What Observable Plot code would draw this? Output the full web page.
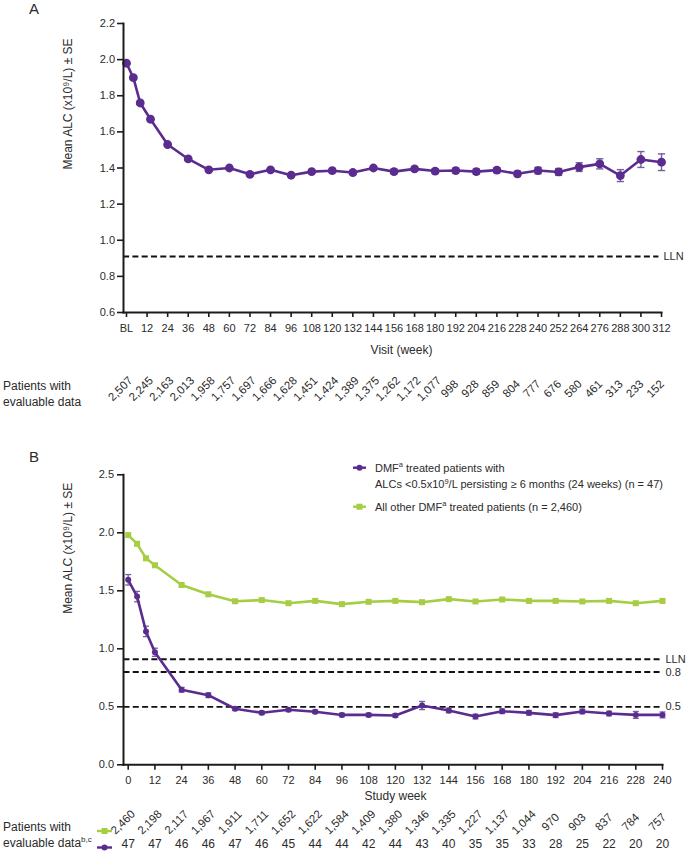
<!DOCTYPE html>
<html>
<head>
<meta charset="utf-8">
<script src="https://cdn.jsdelivr.net/npm/d3@7"></script>
<script src="https://cdn.jsdelivr.net/npm/@observablehq/plot@0.6"></script>
<style>
  html, body { margin: 0; padding: 0; background: #fff; }
  #wrap { position: relative; width: 686px; height: 853px; overflow: hidden; font-family: "Liberation Sans", Arial, sans-serif; }
  #pa { position: absolute; left: 0; top: 0; }
  #pb { position: absolute; left: 0; top: 430px; }
  #ov { position: absolute; left: 0; top: 0; pointer-events: none; }
</style>
</head>
<body>
<div id="wrap">
  <div id="pa"></div>
  <div id="pb"></div>
  <svg id="ov" width="686" height="853" font-family="Liberation Sans, Arial, sans-serif" fill="#2b2b2b">
    <text x="29" y="14" font-size="15">A</text>
    <text x="29" y="462" font-size="15">B</text>
    <text x="3" y="390" font-size="12">Patients with</text>
    <text x="3" y="405.5" font-size="12">evaluable data</text>
    <text x="3" y="831" font-size="12">Patients with</text>
    <text x="3" y="846.5" font-size="12">evaluable data<tspan font-size="8" dy="-5">b,c</tspan></text>
    <!-- patients-row legend glyphs -->
    <line x1="97" x2="112" y1="831" y2="831" stroke="#a6cd43" stroke-width="2.4"/>
    <rect x="101.5" y="828" width="6" height="6" fill="#a6cd43"/>
    <line x1="97" x2="112" y1="847.5" y2="847.5" stroke="#5b2c8f" stroke-width="2.4"/>
    <circle cx="104.5" cy="847.5" r="3" fill="#5b2c8f"/>
    <!-- main legend B -->
    <line x1="353" x2="366" y1="467.7" y2="467.7" stroke="#5b2c8f" stroke-width="2.4"/>
    <circle cx="359.5" cy="467.7" r="3" fill="#5b2c8f"/>
    <text x="375" y="471.7" font-size="11">DMF<tspan font-size="7.5" dy="-4.5">a</tspan><tspan dy="4.5"> treated patients with</tspan></text>
    <text x="375" y="488.3" font-size="11">ALCs &lt;0.5x10<tspan font-size="7.5" dy="-4.5">9</tspan><tspan dy="4.5">/L persisting ≥ 6 months (24 weeks) (n = 47)</tspan></text>
    <line x1="353" x2="366" y1="506.7" y2="506.7" stroke="#a6cd43" stroke-width="2.4"/>
    <rect x="356.5" y="503.7" width="6" height="6" fill="#a6cd43"/>
    <text x="375" y="510.5" font-size="11">All other DMF<tspan font-size="7.5" dy="-4.5">a</tspan><tspan dy="4.5"> treated patients (n = 2,460)</tspan></text>
  </svg>
</div>
<script>
// ---------------- Panel A data ----------------
const weeksA = [0, 4, 8, 14, 24, 36, 48, 60, 72, 84, 96, 108, 120, 132, 144, 156, 168, 180, 192, 204, 216, 228, 240, 252, 264, 276, 288, 300, 312];
const meanA  = [1.98, 1.90, 1.76, 1.67, 1.53, 1.45, 1.39, 1.40, 1.365, 1.39, 1.36, 1.38, 1.385, 1.375, 1.40, 1.38, 1.395, 1.383, 1.386, 1.38, 1.388, 1.368, 1.386, 1.378, 1.405, 1.423, 1.358, 1.447, 1.432];
const seA    = [0.010, 0.010, 0.010, 0.010, 0.008, 0.008, 0.008, 0.009, 0.009, 0.009, 0.009, 0.010, 0.010, 0.011, 0.011, 0.012, 0.012, 0.013, 0.013, 0.014, 0.014, 0.015, 0.018, 0.019, 0.024, 0.028, 0.033, 0.044, 0.046];
const tickWeeksA  = [0, 12, 24, 36, 48, 60, 72, 84, 96, 108, 120, 132, 144, 156, 168, 180, 192, 204, 216, 228, 240, 252, 264, 276, 288, 300, 312];
const tickLabelsA = ["BL", "12", "24", "36", "48", "60", "72", "84", "96", "108", "120", "132", "144", "156", "168", "180", "192", "204", "216", "228", "240", "252", "264", "276", "288", "300", "312"];
const patientsA   = ["2,507", "2,245", "2,163", "2,013", "1,958", "1,757", "1,697", "1,666", "1,628", "1,451", "1,424", "1,389", "1,375", "1,262", "1,172", "1,077", "998", "928", "859", "804", "777", "676", "580", "461", "313", "233", "152"];
const yTicksA = [0.6, 0.8, 1.0, 1.2, 1.4, 1.6, 1.8, 2.0, 2.2];
const llnValue = 0.91;

// ---------------- Panel B data ----------------
const weeksB     = [0, 4, 8, 12, 24, 36, 48, 60, 72, 84, 96, 108, 120, 132, 144, 156, 168, 180, 192, 204, 216, 228, 240];
const meanOther  = [1.98, 1.905, 1.78, 1.72, 1.55, 1.47, 1.41, 1.42, 1.393, 1.413, 1.385, 1.405, 1.413, 1.402, 1.428, 1.408, 1.425, 1.413, 1.413, 1.408, 1.413, 1.393, 1.413];
const seOther    = [0.010, 0.010, 0.010, 0.010, 0.009, 0.009, 0.009, 0.009, 0.009, 0.009, 0.009, 0.010, 0.010, 0.010, 0.010, 0.011, 0.011, 0.011, 0.012, 0.012, 0.013, 0.013, 0.013];
const meanLow    = [1.595, 1.45, 1.15, 0.97, 0.647, 0.60, 0.483, 0.448, 0.474, 0.457, 0.43, 0.43, 0.425, 0.511, 0.468, 0.416, 0.462, 0.448, 0.428, 0.46, 0.442, 0.43, 0.43];
const seLow      = [0.045, 0.045, 0.045, 0.035, 0.020, 0.020, 0.015, 0.015, 0.015, 0.015, 0.015, 0.015, 0.015, 0.035, 0.020, 0.020, 0.020, 0.020, 0.020, 0.020, 0.020, 0.030, 0.025];
const tickWeeksB = [0, 12, 24, 36, 48, 60, 72, 84, 96, 108, 120, 132, 144, 156, 168, 180, 192, 204, 216, 228, 240];
const patientsOther = ["2,460", "2,198", "2,117", "1,967", "1,911", "1,711", "1,652", "1,622", "1,584", "1,409", "1,380", "1,346", "1,335", "1,227", "1,137", "1,044", "970", "903", "837", "784", "757"];
const patientsLow   = ["47", "47", "46", "46", "47", "46", "45", "44", "44", "42", "44", "43", "40", "35", "35", "33", "28", "25", "22", "20", "20"];
const yTicksB = [0, 0.5, 1.0, 1.5, 2.0, 2.5];
const refValuesB = [0.91, 0.8, 0.5];
const refLabelsB = ["LLN", "0.8", "0.5"];

const yLabel = "Mean ALC (x10⁹/L) ± SE";

// ---------------- styles ----------------
const purple = "#5b2c8f";
const purpleErr = "#725f9c";
const green = "#a6cd43";
const axisColor = "#1c1c1c";
const cap = {draw(ctx, size) { const w = Math.sqrt(size / Math.PI); ctx.moveTo(-w, 0); ctx.lineTo(w, 0); }};

// ---------------- tables ----------------
const dataA = weeksA.map((w, i) => ({week: w, mean: meanA[i], lo: meanA[i] - seA[i], hi: meanA[i] + seA[i]}));
const rowA = tickWeeksA.map((w, i) => ({week: w, n: patientsA[i]}));
const other = weeksB.map((w, i) => ({week: w, mean: meanOther[i], lo: meanOther[i] - seOther[i], hi: meanOther[i] + seOther[i]}));
const low = weeksB.map((w, i) => ({week: w, mean: meanLow[i], lo: meanLow[i] - seLow[i], hi: meanLow[i] + seLow[i]}));
const rowB = tickWeeksB.map((w, i) => ({week: w, other: patientsOther[i], low: patientsLow[i]}));
const refB = refValuesB.map((v, i) => ({v, label: refLabelsB[i]}));

const style = {fontFamily: "Liberation Sans, Arial, sans-serif", fontSize: "11px", color: "#2b2b2b", background: "transparent", overflow: "visible"};

// ---------------- Panel A ----------------
const plotA = Plot.plot({
  width: 686, height: 430,
  marginLeft: 123, marginRight: 25, marginTop: 23, marginBottom: 118,
  style,
  x: {domain: [0, 312], range: [126, 661], label: null},
  y: {domain: [0.6, 2.2], range: [312, 23], label: null},
  marks: [
    Plot.ruleY([llnValue], {stroke: "#111", strokeWidth: 1.8, strokeDasharray: "6,3.3", x1: -1.7, x2: 310.5}),
    Plot.text([llnValue], {y: d => d, frameAnchor: "right", textAnchor: "start", dx: 2, text: () => "LLN", fontSize: 11}),
    Plot.ruleX(dataA, {x: "week", y1: "lo", y2: "hi", stroke: purpleErr, strokeWidth: 1.4}),
    Plot.dot(dataA, {x: "week", y: "hi", symbol: cap, r: 3.6, stroke: purpleErr, strokeWidth: 1.4, fill: "none"}),
    Plot.dot(dataA, {x: "week", y: "lo", symbol: cap, r: 3.6, stroke: purpleErr, strokeWidth: 1.4, fill: "none"}),
    Plot.line(dataA, {x: "week", y: "mean", stroke: purple, strokeWidth: 2.6}),
    Plot.dot(dataA, {x: "week", y: "mean", r: 4.4, fill: purple, stroke: "none"}),
    Plot.frame({anchor: "left", stroke: axisColor, strokeWidth: 2}),
    Plot.frame({anchor: "bottom", stroke: axisColor, strokeWidth: 2}),
    Plot.axisY({ticks: yTicksA, tickFormat: d3.format(".1f"), tickSize: 6, tickPadding: 2.5, strokeWidth: 1.6, stroke: axisColor, fontSize: 11, label: null}),
    Plot.axisX({ticks: tickWeeksA, tickFormat: d => tickLabelsA[tickWeeksA.indexOf(d)], tickSize: 5, tickPadding: 7, strokeWidth: 1.6, stroke: axisColor, fontSize: 11, label: null}),
    Plot.text([yLabel], {frameAnchor: "left", dx: -55, dy: 1.5, rotate: -90, text: d => d, fontSize: 12}),
    Plot.text(["Visit (week)"], {frameAnchor: "bottom", dx: 9, dy: 41.5, text: d => d, fontSize: 12}),
    Plot.text(rowA, {x: "week", text: "n", frameAnchor: "bottom", dx: -3.5, dy: 79, rotate: -45, fontSize: 11.5})
  ]
});
document.getElementById("pa").appendChild(plotA);

// ---------------- Panel B ----------------
const plotB = Plot.plot({
  width: 686, height: 425,
  marginLeft: 123, marginRight: 24, marginTop: 44.3, marginBottom: 90.7,
  style,
  x: {domain: [0, 240], range: [127.7, 662], label: null},
  y: {domain: [0, 2.5], range: [334.3, 44.3], label: null},
  marks: [
    Plot.ruleY(refB, {y: "v", stroke: "#111", strokeWidth: 1.8, strokeDasharray: "6,3.3", x1: -1.9, x2: 239}),
    Plot.text(refB, {y: "v", text: "label", frameAnchor: "right", textAnchor: "start", dx: 3, fontSize: 11}),
    Plot.ruleX(other, {x: "week", y1: "lo", y2: "hi", stroke: green, strokeWidth: 1.3}),
    Plot.line(other, {x: "week", y: "mean", stroke: green, strokeWidth: 2.6}),
    Plot.dot(other, {x: "week", y: "mean", symbol: "square", r: 3.4, fill: green, stroke: "none"}),
    Plot.ruleX(low, {x: "week", y1: "lo", y2: "hi", stroke: purpleErr, strokeWidth: 1.3}),
    Plot.dot(low, {x: "week", y: "hi", symbol: cap, r: 3, stroke: purpleErr, strokeWidth: 1.3, fill: "none"}),
    Plot.dot(low, {x: "week", y: "lo", symbol: cap, r: 3, stroke: purpleErr, strokeWidth: 1.3, fill: "none"}),
    Plot.line(low, {x: "week", y: "mean", stroke: purple, strokeWidth: 2.6}),
    Plot.dot(low, {x: "week", y: "mean", r: 3, fill: purple, stroke: "none"}),
    Plot.frame({anchor: "left", stroke: axisColor, strokeWidth: 2}),
    Plot.frame({anchor: "bottom", stroke: axisColor, strokeWidth: 2}),
    Plot.axisY({ticks: yTicksB, tickFormat: d3.format(".1f"), tickSize: 6, tickPadding: 3.5, strokeWidth: 1.6, stroke: axisColor, fontSize: 11, label: null}),
    Plot.axisX({ticks: tickWeeksB, tickFormat: d => String(d), tickSize: 5.5, tickPadding: 5.5, strokeWidth: 1.6, stroke: axisColor, fontSize: 11, label: null}),
    Plot.text([yLabel], {frameAnchor: "left", dx: -55, dy: -6, rotate: -90, text: d => d, fontSize: 12}),
    Plot.text(["Study week"], {frameAnchor: "bottom", dx: 2.5, dy: 35.2, text: d => d, fontSize: 12}),
    Plot.text(rowB, {x: "week", text: "other", frameAnchor: "bottom", dx: -2.5, dy: 60, rotate: -45, fontSize: 11.5}),
    Plot.text(rowB, {x: "week", text: "low", frameAnchor: "bottom", dy: 83.4, fontSize: 12})
  ]
});
document.getElementById("pb").appendChild(plotB);
</script>
</body>
</html>
